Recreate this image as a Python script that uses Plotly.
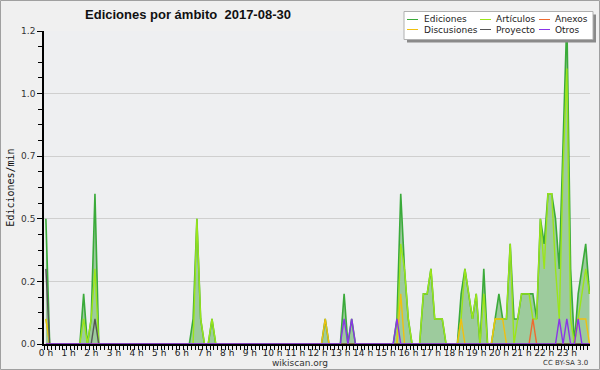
import plotly.graph_objects as go

# ---------------- data (10-minute bins, edits per minute) ----------------
bins_per_hour = 6
hour_labels = [f"{h} h" for h in range(24)]
y_tick_values = [0, 0.25, 0.5, 0.75, 1.0, 1.25]
y_tick_labels = ["0.0", "0.2", "0.5", "0.7", "1.0", "1.2"]

ediciones = [
    0.5, 0, 0, 0, 0, 0,          # 0 h
    0, 0, 0, 0, 0.2, 0,          # 1 h
    0.1, 0.6, 0, 0, 0, 0,        # 2 h
    0, 0, 0, 0, 0, 0,            # 3 h
    0, 0, 0, 0, 0, 0,            # 4 h
    0, 0, 0, 0, 0, 0,            # 5 h
    0, 0, 0, 0.1, 0.5, 0.1,      # 6 h
    0, 0, 0.1, 0, 0, 0,          # 7 h
    0, 0, 0, 0, 0, 0,            # 8 h
    0, 0, 0, 0, 0, 0,            # 9 h
    0, 0, 0, 0, 0, 0,            # 10 h
    0, 0, 0, 0, 0, 0,            # 11 h
    0, 0, 0.1, 0, 0, 0,          # 12 h
    0, 0.2, 0, 0.1, 0, 0,        # 13 h
    0, 0, 0, 0, 0, 0,            # 14 h
    0, 0, 0, 0.1, 0.6, 0.3,      # 15 h
    0.1, 0, 0, 0, 0.2, 0.2,      # 16 h
    0.3, 0.1, 0.1, 0.1, 0, 0,    # 17 h
    0, 0, 0.2, 0.3, 0.2, 0.1,    # 18 h
    0.2, 0, 0.3, 0, 0, 0.1,      # 19 h
    0.2, 0.1, 0.1, 0.4, 0.1, 0.1,  # 20 h
    0.2, 0.2, 0.2, 0.2, 0.1, 0.5,  # 21 h
    0.4, 0.6, 0.6, 0.5, 0.3, 0.8,  # 22 h
    1.3, 0.3, 0, 0.2, 0.3, 0.4,    # 23 h
    0.2,
]
articulos = [
    0.1, 0, 0, 0, 0, 0,
    0, 0, 0, 0, 0.1, 0,
    0.1, 0.3, 0, 0, 0, 0,
    0, 0, 0, 0, 0, 0,
    0, 0, 0, 0, 0, 0,
    0, 0, 0, 0, 0, 0,
    0, 0, 0, 0, 0.5, 0.1,
    0, 0, 0.1, 0, 0, 0,
    0, 0, 0, 0, 0, 0,
    0, 0, 0, 0, 0, 0,
    0, 0, 0, 0, 0, 0,
    0, 0, 0, 0, 0, 0,
    0, 0, 0, 0, 0, 0,
    0, 0, 0, 0, 0, 0,
    0, 0, 0, 0, 0, 0,
    0, 0, 0, 0, 0.4, 0.3,
    0.1, 0, 0, 0, 0.2, 0.2,
    0.3, 0.1, 0.1, 0.1, 0, 0,
    0, 0, 0.1, 0.3, 0.2, 0.1,
    0.2, 0, 0.2, 0, 0, 0.1,
    0.1, 0.1, 0.1, 0.4, 0, 0.1,
    0.2, 0.2, 0.2, 0.1, 0.1, 0.5,
    0.3, 0.6, 0.6, 0.3, 0.1, 0.7,
    1.1, 0.1, 0, 0.1, 0.2, 0.3,
    0.2,
]
discusiones = [
    0.1, 0, 0, 0, 0, 0,
    0, 0, 0, 0, 0, 0,
    0, 0, 0, 0, 0, 0,
    0, 0, 0, 0, 0, 0,
    0, 0, 0, 0, 0, 0,
    0, 0, 0, 0, 0, 0,
    0, 0, 0, 0, 0, 0,
    0, 0, 0, 0, 0, 0,
    0, 0, 0, 0, 0, 0,
    0, 0, 0, 0, 0, 0,
    0, 0, 0, 0, 0, 0,
    0, 0, 0, 0, 0, 0,
    0, 0, 0.1, 0, 0, 0,
    0, 0, 0, 0, 0, 0,
    0, 0, 0, 0, 0, 0,
    0, 0, 0, 0, 0.2, 0,
    0, 0, 0, 0, 0, 0,
    0, 0, 0, 0, 0, 0,
    0, 0, 0.1, 0, 0, 0,
    0, 0, 0, 0, 0, 0.1,
    0.1, 0.1, 0, 0, 0, 0,
    0, 0, 0, 0, 0, 0,
    0, 0, 0, 0, 0, 0,
    0, 0, 0, 0.1, 0.1, 0.1,
    0,
]
anexos = [
    0, 0, 0, 0, 0, 0,
    0, 0, 0, 0, 0, 0,
    0, 0, 0, 0, 0, 0,
    0, 0, 0, 0, 0, 0,
    0, 0, 0, 0, 0, 0,
    0, 0, 0, 0, 0, 0,
    0, 0, 0, 0, 0, 0,
    0, 0, 0, 0, 0, 0,
    0, 0, 0, 0, 0, 0,
    0, 0, 0, 0, 0, 0,
    0, 0, 0, 0, 0, 0,
    0, 0, 0, 0, 0, 0,
    0, 0, 0, 0, 0, 0,
    0, 0, 0, 0, 0, 0,
    0, 0, 0, 0, 0, 0,
    0, 0, 0, 0, 0, 0,
    0, 0, 0, 0, 0, 0,
    0, 0, 0, 0, 0, 0,
    0, 0, 0, 0, 0, 0,
    0, 0, 0, 0, 0, 0,
    0, 0, 0, 0, 0, 0,
    0, 0, 0, 0.1, 0, 0,
    0, 0, 0, 0, 0, 0,
    0, 0, 0, 0, 0, 0,
    0,
]
proyecto = [
    0.3, 0, 0, 0, 0, 0,
    0, 0, 0, 0, 0, 0,
    0, 0.1, 0, 0, 0, 0,
    0, 0, 0, 0, 0, 0,
    0, 0, 0, 0, 0, 0,
    0, 0, 0, 0, 0, 0,
    0, 0, 0, 0, 0, 0,
    0, 0, 0, 0, 0, 0,
    0, 0, 0, 0, 0, 0,
    0, 0, 0, 0, 0, 0,
    0, 0, 0, 0, 0, 0,
    0, 0, 0, 0, 0, 0,
    0, 0, 0, 0, 0, 0,
    0, 0, 0, 0, 0, 0,
    0, 0, 0, 0, 0, 0,
    0, 0, 0, 0, 0, 0,
    0, 0, 0, 0, 0, 0,
    0, 0, 0, 0, 0, 0,
    0, 0, 0, 0, 0, 0,
    0, 0, 0, 0, 0, 0,
    0, 0, 0, 0, 0, 0,
    0, 0, 0, 0, 0, 0,
    0, 0, 0, 0, 0, 0,
    0, 0, 0, 0, 0, 0,
    0,
]
otros = [
    0, 0, 0, 0, 0, 0,
    0, 0, 0, 0, 0, 0,
    0, 0, 0, 0, 0, 0,
    0, 0, 0, 0, 0, 0,
    0, 0, 0, 0, 0, 0,
    0, 0, 0, 0, 0, 0,
    0, 0, 0, 0, 0, 0,
    0, 0, 0, 0, 0, 0,
    0, 0, 0, 0, 0, 0,
    0, 0, 0, 0, 0, 0,
    0, 0, 0, 0, 0, 0,
    0, 0, 0, 0, 0, 0,
    0, 0, 0, 0, 0, 0,
    0, 0.1, 0, 0.1, 0, 0,
    0, 0, 0, 0, 0, 0,
    0, 0, 0, 0.1, 0, 0,
    0, 0, 0, 0, 0, 0,
    0, 0, 0, 0, 0, 0,
    0, 0, 0, 0, 0, 0,
    0, 0, 0, 0, 0, 0,
    0, 0, 0, 0, 0, 0,
    0, 0, 0, 0, 0, 0,
    0, 0, 0, 0, 0.1, 0,
    0.1, 0, 0, 0.1, 0, 0,
    0,
]

# bin centres in hours
hours = [(i + 0.5) / bins_per_hour for i in range(len(ediciones))]

# ---------------- style ----------------
C_ED = "#3aaa3a"
C_FILL = "#9dcb9d"
C_ART = "#9be51a"
C_DISC = "#f0c010"
C_ANX = "#ee6a30"
C_PROY = "#555555"
C_OTR = "#8a35e8"
FONT = "DejaVu Sans"

PL, PR, PT, PB = 44, 590, 31, 344   # plot area in px
W, H = 600, 370
PX_PER_HOUR = 22.65


def fx(px):
    return (px - PL) / (PR - PL)


def fy(py):
    return (PB - py) / (PB - PT)


fig = go.Figure()
fig.add_trace(go.Scatter(x=hours, y=ediciones, mode="lines", name="Ediciones",
                         line=dict(color=C_ED, width=1.6), fill="tozeroy",
                         fillcolor=C_FILL, showlegend=False))
for name, vals, col in [("Artículos", articulos, C_ART),
                        ("Discusiones", discusiones, C_DISC),
                        ("Anexos", anexos, C_ANX),
                        ("Proyecto", proyecto, C_PROY),
                        ("Otros", otros, C_OTR)]:
    fig.add_trace(go.Scatter(x=hours, y=vals, mode="lines", name=name,
                             line=dict(color=col, width=1.4), showlegend=False))

shapes = []
annotations = []
# outer border of the image
shapes.append(dict(type="rect", xref="paper", yref="paper",
                   x0=fx(0.5), x1=fx(W - 0.5), y0=fy(H - 0.5), y1=fy(0.5),
                   line=dict(color="#a0a0a0", width=1), fillcolor="rgba(0,0,0,0)",
                   layer="below"))

# legend box with shadow
shapes.append(dict(type="rect", xref="paper", yref="paper",
                   x0=fx(407), x1=fx(596), y0=fy(42.5), y1=fy(14.5),
                   line=dict(width=0), fillcolor="#8a8a8a"))
shapes.append(dict(type="rect", xref="paper", yref="paper",
                   x0=fx(404), x1=fx(593), y0=fy(39.5), y1=fy(11.5),
                   line=dict(color="#b0b0b0", width=1), fillcolor="white"))
legend_items = [("Ediciones", C_ED, 0, 0), ("Artículos", C_ART, 1, 0), ("Anexos", C_ANX, 2, 0),
                ("Discusiones", C_DISC, 0, 1), ("Proyecto", C_PROY, 1, 1), ("Otros", C_OTR, 2, 1)]
col_line_x = [407, 480, 539]
col_text_x = [423, 495, 554]
row_y = [19.5, 29.5]
for name, col, c, r in legend_items:
    shapes.append(dict(type="line", xref="paper", yref="paper",
                       x0=fx(col_line_x[c]), x1=fx(col_line_x[c] + 11),
                       y0=fy(row_y[r]), y1=fy(row_y[r]),
                       line=dict(color=col, width=1)))
    annotations.append(dict(text=name, xref="paper", yref="paper",
                            x=fx(col_text_x[c] - 1), y=fy(row_y[r]),
                            xanchor="left", yanchor="middle", showarrow=False,
                            font=dict(family=FONT, size=9, color="#222")))

annotations.append(dict(text="wikiscan.org", xref="paper", yref="paper",
                        x=fx(300), y=fy(362.5), xanchor="center", yanchor="middle",
                        showarrow=False, font=dict(family=FONT, size=9, color="#333")))
annotations.append(dict(text="CC BY-SA 3.0", xref="paper", yref="paper",
                        x=fx(590), y=fy(362.5), xanchor="right", yanchor="middle",
                        showarrow=False, font=dict(family=FONT, size=7, color="#333")))

fig.update_layout(
    width=W, height=H,
    margin=dict(l=PL, r=W - PR, t=PT, b=H - PB, autoexpand=False),
    paper_bgcolor="#f0f0f0", plot_bgcolor="#eeeff1",
    title=dict(text="Ediciones por ámbito\u00a0\u00a02017-08-30", x=188 / W, xanchor="center",
               xref="container", y=1 - 14.5 / H, yanchor="middle",
               font=dict(family="Liberation Sans", size=13, color="#111", weight="bold")),
    shapes=shapes, annotations=annotations,
    showlegend=False,
    xaxis=dict(range=[0, (PR - PL) / PX_PER_HOUR], tickmode="array",
               tickvals=list(range(24)), ticktext=hour_labels,
               ticks="", ticklabelshift=2, ticklabelstandoff=-1, automargin=False,
               minor=dict(tickmode="array",
                          tickvals=[k / bins_per_hour for k in range(24 * bins_per_hour + 1)],
                          ticks="outside", ticklen=4, tickwidth=1, tickcolor="black",
                          showgrid=False),
               showline=True, linecolor="black", linewidth=2,
               showgrid=False, zeroline=False,
               tickfont=dict(family=FONT, size=9, color="#222")),
    yaxis=dict(range=[0, 1.25], tickmode="array", tickvals=y_tick_values,
               ticktext=y_tick_labels, ticks="outside", ticklen=5, tickwidth=1,
               tickcolor="black", automargin=False,
               minor=dict(tickmode="linear", tick0=0, dtick=0.0625, ticks="outside",
                          ticklen=4, tickwidth=1, tickcolor="black", showgrid=False),
               showline=True, linecolor="black", linewidth=1.5,
               showgrid=True, gridcolor="#cfcfcf", gridwidth=1, zeroline=False,
               tickfont=dict(family=FONT, size=9, color="#333"),
               title=dict(text="Ediciones/min", standoff=5,
                          font=dict(family="DejaVu Sans Mono", size=10, color="#111"))),
)

fig.write_html("out.html")
